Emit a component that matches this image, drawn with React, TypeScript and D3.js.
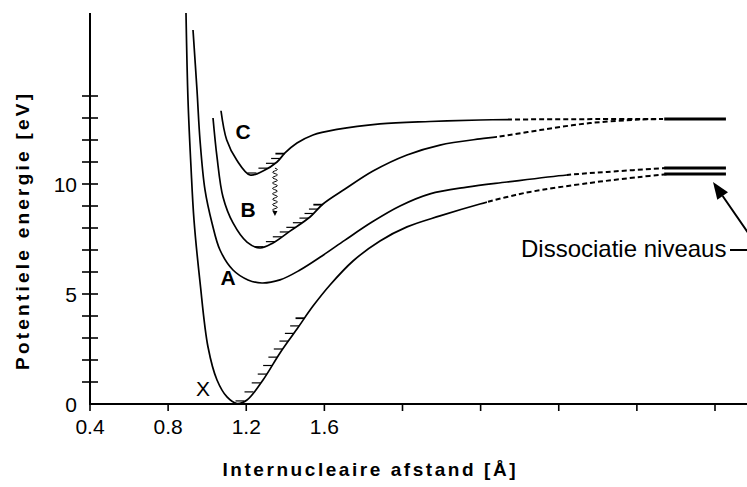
import React from 'react';
import * as d3 from 'd3';

const W = 747;
const H = 487;

// Potential curves: internuclear distance (Å) and potential energy (eV)
const rX = [0.8915, 0.9018, 0.9171, 0.9325, 0.9632, 1.0042, 1.0502, 1.1014, 1.1526, 1.2038, 1.2858, 1.3728, 1.4598, 1.5418, 1.6288, 1.7466, 1.8848, 2.023, 2.192, 2.3968, 2.535, 2.6528, 2.96, 3.216, 3.354];
const eX = [17.77, 13.82, 10.77, 8.36, 5.55, 2.59, 1.09, 0.32, 0.02, 0.18, 1.09, 2.32, 3.41, 4.45, 5.41, 6.5, 7.41, 8.05, 8.55, 9.09, 9.41, 9.64, 10.05, 10.32, 10.45];

const rA = [0.9274, 0.9478, 0.9632, 0.9888, 1.0246, 1.0656, 1.1322, 1.209, 1.2806, 1.3728, 1.4752, 1.5878, 1.7056, 1.8438, 1.9872, 2.1408, 2.3302, 2.535, 2.8422, 3.047, 3.354];
const eA = [17.0, 14.27, 12.0, 9.73, 8.23, 7.0, 6.09, 5.64, 5.5, 5.64, 6.09, 6.73, 7.45, 8.27, 9.0, 9.55, 9.86, 10.09, 10.41, 10.55, 10.73];

const rB = [1.0298, 1.0502, 1.081, 1.1322, 1.2038, 1.2704, 1.337, 1.424, 1.5264, 1.593, 1.7056, 1.849, 2.023, 2.192, 2.3968, 2.4838, 2.704, 2.96, 3.216, 3.334];
const eB = [13.0, 11.23, 9.41, 8.23, 7.36, 7.09, 7.32, 7.86, 8.5, 9.09, 9.77, 10.59, 11.32, 11.77, 12.05, 12.14, 12.45, 12.77, 12.93, 12.95];

const rC = [1.0707, 1.1, 1.1511, 1.2192, 1.2858, 1.3574, 1.3984, 1.4598, 1.5418, 1.6646, 1.8848, 2.1408, 2.3968, 2.5402, 3.011, 3.334];
const eC = [13.33, 12.0, 11.09, 10.41, 10.59, 11.0, 11.41, 11.86, 12.23, 12.48, 12.73, 12.84, 12.91, 12.93, 12.95, 12.95];

// Distance beyond which each curve is only estimated (dashed)
const dashFromX = 2.433;
const dashFromA = 2.842;
const dashFromB = 2.484;
const dashFromC = 2.54;

// Vibrational levels (eV)
const vibX = [0.14, 0.55, 0.96, 1.36, 1.75, 2.13, 2.5, 2.86, 3.21, 3.55, 3.9];
const vibB = [7.15, 7.38, 7.6, 7.82, 8.03, 8.24, 8.45, 8.66, 8.86, 9.06];
const vibC = [10.5, 10.72, 10.94, 11.16, 11.38];

// Dissociation limits (eV) and the distance range their bars span
const dissUpper = 12.95;
const dissA = 10.73;
const dissX = 10.45;
const dissRange = [3.34, 3.656];

// Radiative transition C -> B
const transitionR = 1.347;
const transitionFrom = 10.72;
const transitionTo = 8.55;

// Axes
const xTicks = [0.4, 0.8, 1.2, 1.6, 2.0, 2.4, 2.8, 3.2, 3.6];
const xTickLabels = ['0.4', '0.8', '1.2', '1.6'];
const yTicks = [1, 2, 3, 4, 5, 6, 7, 8, 9, 10, 11, 12, 13, 14];
const yTickLabels = [0, 5, 10];

const FONT = "'Liberation Sans', Arial, Helvetica, sans-serif";

const x = d3.scaleLinear().domain([0.4, 3.6]).range([90, 715]);
const y = d3.scaleLinear().domain([0, 10]).range([404, 184]);

type Pt = [number, number];
const zip = (r: number[], e: number[]): Pt[] => r.map((v, i) => [v, e[i]]);

const line = d3
  .line<Pt>()
  .x((d) => x(d[0]))
  .y((d) => y(d[1]))
  .curve(d3.curveCatmullRom.alpha(0.5));

// x position on the outer (right) branch of a curve at a given energy
function branchX(pts: Pt[], energy: number): number {
  let iMin = 0;
  pts.forEach((p, i) => {
    if (p[1] < pts[iMin][1]) iMin = i;
  });
  for (let i = iMin; i < pts.length - 1; i++) {
    const [r0, e0] = pts[i];
    const [r1, e1] = pts[i + 1];
    if ((energy >= e0 && energy <= e1) || (energy <= e0 && energy >= e1)) {
      const t = e1 === e0 ? 0 : (energy - e0) / (e1 - e0);
      return x(r0 + t * (r1 - r0));
    }
  }
  return x(pts[iMin][0]);
}

const curves = [
  { id: 'X', pts: zip(rX, eX), dashFrom: dashFromX, vib: vibX },
  { id: 'A', pts: zip(rA, eA), dashFrom: dashFromA, vib: [] as number[] },
  { id: 'B', pts: zip(rB, eB), dashFrom: dashFromB, vib: vibB },
  { id: 'C', pts: zip(rC, eC), dashFrom: dashFromC, vib: vibC },
];

function wavyPath(): string {
  const cx = x(transitionR);
  const y0 = y(transitionFrom);
  const y1 = y(transitionTo) - 4;
  const pts: Pt[] = [];
  const period = 5.4;
  for (let yy = y0; yy <= y1; yy += 0.5) {
    pts.push([cx + 2.4 * Math.sin(((yy - y0) / period) * 2 * Math.PI), yy]);
  }
  return d3.line()(pts as [number, number][]) || '';
}

export default function App() {
  const cx = x(transitionR);
  const tipY = y(transitionTo);
  const arrowTip: Pt = [713, 182];
  const arrowTail: Pt = [760, 250];
  const ang = Math.atan2(arrowTip[1] - arrowTail[1], arrowTip[0] - arrowTail[0]);
  const headLen = 17;
  const headHalf = 6.5;
  const bx = arrowTip[0] - headLen * Math.cos(ang);
  const by = arrowTip[1] - headLen * Math.sin(ang);
  const head = [
    [arrowTip[0], arrowTip[1]],
    [bx + headHalf * Math.sin(ang), by - headHalf * Math.cos(ang)],
    [bx - headHalf * Math.sin(ang), by + headHalf * Math.cos(ang)],
  ]
    .map((p) => p.join(','))
    .join(' ');

  return (
    <svg
      width={W}
      height={H}
      viewBox={`0 0 ${W} ${H}`}
      style={{ position: 'absolute', left: 0, top: 0, background: '#fff' }}
      fontFamily={FONT}
    >
      <rect width={W} height={H} fill="#fff" />
      <defs>
        {curves.map((c) => (
          <React.Fragment key={c.id}>
            <clipPath id={`solid-${c.id}`}>
              <rect x={0} y={0} width={x(c.dashFrom)} height={H} />
            </clipPath>
            <clipPath id={`dash-${c.id}`}>
              <rect x={x(c.dashFrom)} y={0} width={W} height={H} />
            </clipPath>
          </React.Fragment>
        ))}
      </defs>

      {/* Axes */}
      <line x1={90} x2={90} y1={13} y2={404} stroke="#000" strokeWidth={2} />
      <line x1={89} x2={W} y1={404} y2={404} stroke="#000" strokeWidth={2} />
      {yTicks.map((t) => (
        <line key={t} x1={82} x2={98} y1={y(t)} y2={y(t)} stroke="#000" strokeWidth={1.6} />
      ))}
      {yTickLabels.map((t) => (
        <text key={t} x={77} y={y(t)} dy="0.36em" textAnchor="end" fontSize={21}>
          {t}
        </text>
      ))}
      {xTicks.map((t) => (
        <line key={t} x1={x(t)} x2={x(t)} y1={404} y2={411} stroke="#000" strokeWidth={1.6} />
      ))}
      {xTickLabels.map((t) => (
        <text key={t} x={x(+t)} y={434} textAnchor="middle" fontSize={21}>
          {t}
        </text>
      ))}
      <text
        x={369}
        y={476}
        textAnchor="middle"
        fontSize={19}
        fontWeight="bold"
        textLength={293}
        lengthAdjust="spacing"
      >
        Internucleaire afstand [Å]
      </text>
      <text
        transform="translate(29,232) rotate(-90)"
        textAnchor="middle"
        fontSize={19}
        fontWeight="bold"
        textLength={276}
        lengthAdjust="spacing"
      >
        Potentiele energie [eV]
      </text>

      {/* Potential curves */}
      {curves.map((c) => (
        <g key={c.id} fill="none" stroke="#000">
          <path d={line(c.pts) || ''} strokeWidth={1.7} clipPath={`url(#solid-${c.id})`} />
          <path
            d={line(c.pts) || ''}
            strokeWidth={2}
            strokeDasharray="5 3"
            clipPath={`url(#dash-${c.id})`}
          />
          {c.vib.map((v, i) => {
            const bxv = branchX(c.pts, v);
            return (
              <line
                key={i}
                x1={bxv - 9}
                x2={bxv}
                y1={y(v)}
                y2={y(v)}
                strokeWidth={i === c.vib.length - 1 ? 1.8 : 1.2}
              />
            );
          })}
        </g>
      ))}

      {/* Dissociation limits */}
      {[dissUpper, dissA, dissX].map((d) => (
        <line
          key={d}
          x1={x(dissRange[0])}
          x2={x(dissRange[1])}
          y1={y(d)}
          y2={y(d)}
          stroke="#000"
          strokeWidth={3}
        />
      ))}

      {/* Transition C -> B */}
      <path d={wavyPath()} fill="none" stroke="#000" strokeWidth={1} />
      <polygon
        points={`${cx},${tipY} ${cx - 2.5},${tipY - 5} ${cx + 2.5},${tipY - 5}`}
        fill="#000"
      />

      {/* State labels */}
      <text x={243} y={131} dy="0.36em" textAnchor="middle" fontSize={21} fontWeight="bold">C</text>
      <text x={248} y={209} dy="0.36em" textAnchor="middle" fontSize={21} fontWeight="bold">B</text>
      <text x={228} y={277} dy="0.36em" textAnchor="middle" fontSize={21} fontWeight="bold">A</text>
      <text x={203} y={388} dy="0.36em" textAnchor="middle" fontSize={21}>X</text>

      {/* Annotation */}
      <text x={521} y={257} fontSize={24}>Dissociatie niveaus</text>
      <polyline
        points={`730,250 ${arrowTail[0]},${arrowTail[1]} ${bx},${by}`}
        fill="none"
        stroke="#000"
        strokeWidth={2}
      />
      <polygon points={head} fill="#000" />
    </svg>
  );
}
